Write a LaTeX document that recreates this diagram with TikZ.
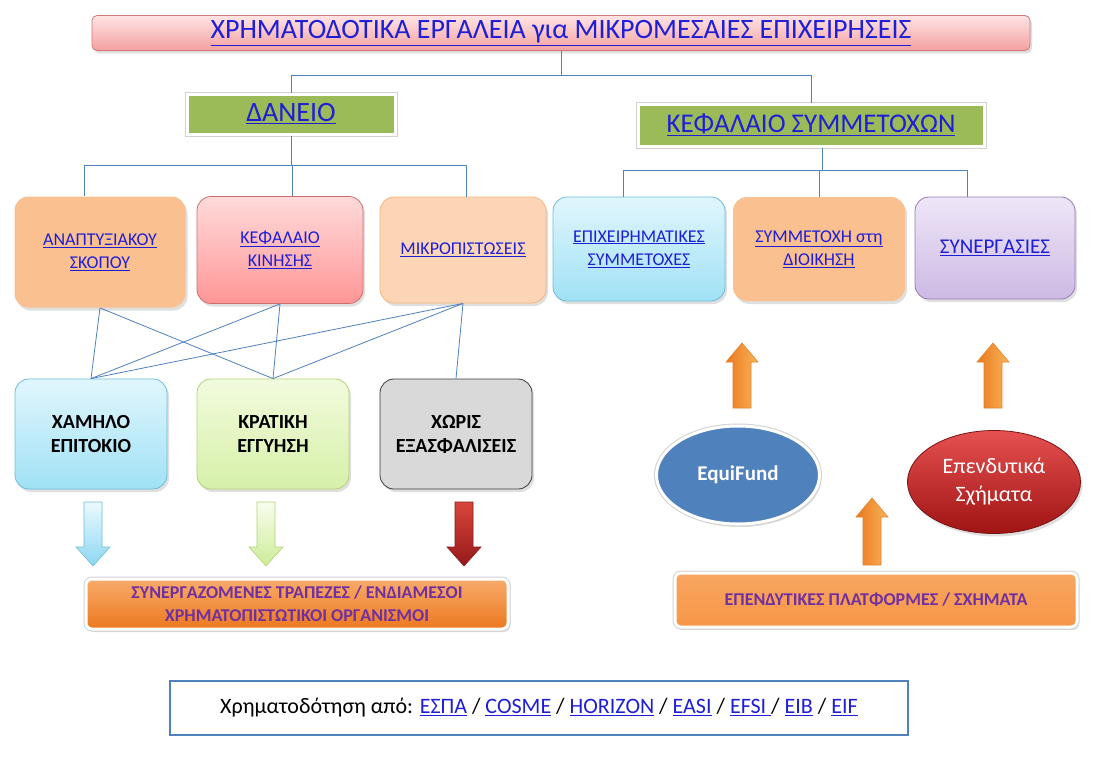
\documentclass[tikz,border=0pt]{standalone}
\usepackage{fontspec}
\setmainfont{Carlito}
\usetikzlibrary{shapes.geometric,shadows}

\definecolor{linkblue}{RGB}{30,30,215}
\definecolor{lineblue}{RGB}{79,129,189}
\definecolor{olivegreen}{RGB}{155,187,89}
\definecolor{peach}{RGB}{250,192,143}
\definecolor{lightpeach}{RGB}{251,213,181}
\definecolor{orangebar}{RGB}{247,150,70}
\definecolor{textpurple}{RGB}{112,48,160}

% underlined link text
\newcommand{\lnk}[1]{\textcolor{linkblue}{\underline{#1}}}

\tikzset{
  tree/.style={draw=lineblue, line width=0.8pt},
  softshadow/.style={drop shadow={opacity=0.25, shadow xshift=2pt, shadow yshift=-3pt}},
  tierbox/.style={rounded corners=14pt, align=center, inner sep=2pt, line width=0.8pt,
    softshadow, font=\fontsize{18}{23}\selectfont},
  glowbox/.style={draw=white, line width=3pt, align=center, softshadow,
    preaction={draw=black!18, line width=5pt}},
  featbox/.style={tierbox, font=\bfseries\fontsize{20}{24}\selectfont},
  blockarr/.style={line width=0.6pt, line join=miter}
}

\begin{document}
\begin{tikzpicture}[x=1pt, y=-1pt]
  \useasboundingbox[fill=white] (0,0) rectangle (1103,776);

  % Title
  \node[rounded corners=5pt, draw={rgb,255:red,210;green,120;blue,120}, line width=0.8pt,
    top color={rgb,255:red,255;green,228;blue,228}, bottom color={rgb,255:red,244;green,160;blue,160},
    softshadow, minimum width=938, minimum height=35,
    font=\fontsize{28}{32}\selectfont] (title) at (561,33)
    {\lnk{ΧΡΗΜΑΤΟΔΟΤΙΚΑ ΕΡΓΑΛΕΙΑ για ΜΙΚΡΟΜΕΣΑΙΕΣ ΕΠΙΧΕΙΡΗΣΕΙΣ}};

  % Two branches
  \node[glowbox, fill=olivegreen, minimum width=208, minimum height=40,
    font=\fontsize{28}{32}\selectfont] (daneio) at (291,114) {\lnk{ΔΑΝΕΙΟ}};
  \node[glowbox, fill=olivegreen, minimum width=346, minimum height=42,
    font=\fontsize{27}{32}\selectfont] (kefalaio) at (811,125) {\lnk{ΚΕΦΑΛΑΙΟ ΣΥΜΜΕΤΟΧΩΝ}};

  \draw[tree] (title.south) -- ++(0,25) -| (daneio.north);
  \draw[tree] (title.south) -- ++(0,25) -| (kefalaio.north);

  % Loan types
  \node[tierbox, fill=peach, minimum width=171, minimum height=111] (anap) at (100,252)
    {\lnk{ΑΝΑΠΤΥΞΙΑΚΟΥ}\\\lnk{ΣΚΟΠΟΥ}};
  \node[tierbox, draw={rgb,255:red,205;green,110;blue,110},
    top color={rgb,255:red,255;green,218;blue,218}, bottom color={rgb,255:red,255;green,150;blue,150},
    minimum width=166, minimum height=107] (kefkin) at (280,250)
    {\lnk{ΚΕΦΑΛΑΙΟ}\\\lnk{ΚΙΝΗΣΗΣ}};
  \node[tierbox, fill=lightpeach, draw={rgb,255:red,248;green,180;blue,120},
    minimum width=166, minimum height=106] (mikro) at (463,250)
    {\lnk{ΜΙΚΡΟΠΙΣΤΩΣΕΙΣ}};

  \draw[tree] (daneio.south) -- ++(0,30) -| ([xshift=-16]anap.north);
  \draw[tree] (daneio.south) -- ++(0,30) -| ([xshift=12]kefkin.north);
  \draw[tree] (daneio.south) -- ++(0,30) -| ([xshift=3]mikro.north);

  % Equity types
  \node[tierbox, draw={rgb,255:red,110;green,190;blue,215},
    top color={rgb,255:red,225;green,246;blue,253}, bottom color={rgb,255:red,160;green,225;blue,245},
    minimum width=172, minimum height=104] (epix) at (639,249)
    {\lnk{ΕΠΙΧΕΙΡΗΜΑΤΙΚΕΣ}\\\lnk{ΣΥΜΜΕΤΟΧΕΣ}};
  \node[tierbox, fill=peach, minimum width=172, minimum height=104] (symm) at (819,249)
    {\lnk{ΣΥΜΜΕΤΟΧΗ στη}\\\lnk{ΔΙΟΙΚΗΣΗ}};
  \node[tierbox, draw={rgb,255:red,150;green,125;blue,180},
    top color={rgb,255:red,238;green,230;blue,247}, bottom color={rgb,255:red,205;green,185;blue,228},
    minimum width=160, minimum height=102, font=\fontsize{21}{24}\selectfont] (syner) at (995,248)
    {\lnk{ΣΥΝΕΡΓΑΣΙΕΣ}};

  \draw[tree] ([xshift=11]kefalaio.south) -- ++(0,23) -| ([xshift=-16]epix.north);
  \draw[tree] ([xshift=11]kefalaio.south) -- ++(0,23) -| (symm.north);
  \draw[tree] ([xshift=11]kefalaio.south) -- ++(0,23) -| ([xshift=-28]syner.north);

  % Loan features
  \node[featbox, draw={rgb,255:red,110;green,190;blue,215},
    top color={rgb,255:red,225;green,246;blue,253}, bottom color={rgb,255:red,160;green,225;blue,245},
    minimum width=152, minimum height=110] (xamhlo) at (91,434) {ΧΑΜΗΛΟ\\ΕΠΙΤΟΚΙΟ};
  \node[featbox, draw={rgb,255:red,180;green,210;blue,120},
    top color={rgb,255:red,242;green,251;blue,222}, bottom color={rgb,255:red,214;green,240;blue,168},
    minimum width=152, minimum height=110] (kratikh) at (273,434) {ΚΡΑΤΙΚΗ\\ΕΓΓΥΗΣΗ};
  \node[featbox, draw={rgb,255:red,60;green,60;blue,60}, fill={rgb,255:red,217;green,217;blue,217},
    minimum width=152, minimum height=110] (xoris) at (456,434) {ΧΩΡΙΣ\\ΕΞΑΣΦΑΛΙΣΕΙΣ};

  \draw[tree] (anap.south) -- (xamhlo.north);
  \draw[tree] (anap.south) -- (kratikh.north);
  \draw[tree] (kefkin.south) -- (xamhlo.north);
  \draw[tree] (kefkin.south) -- (kratikh.north);
  \draw[tree] (mikro.south) -- (xamhlo.north);
  \draw[tree] (mikro.south) -- (kratikh.north);
  \draw[tree] (mikro.south) -- (xoris.north);

  % Banks bar
  \node[rounded corners=6pt, glowbox, top color=orangebar!80, bottom color={rgb,255:red,236;green,120;blue,30},
    minimum width=422, minimum height=50, text=textpurple,
    font=\bfseries\fontsize{18}{23}\selectfont] (trapezes) at (297,604)
    {ΣΥΝΕΡΓΑΖΟΜΕΝΕΣ ΤΡΑΠΕΖΕΣ / ΕΝΔΙΑΜΕΣΟΙ\\ΧΡΗΜΑΤΟΠΙΣΤΩΤΙΚΟΙ ΟΡΓΑΝΙΣΜΟΙ};

  % Down arrows
  \path[blockarr, draw={rgb,255:red,110;green,190;blue,215},
    top color={rgb,255:red,235;green,250;blue,255}, bottom color={rgb,255:red,140;green,215;blue,240}]
    (84,502) -- (102,502) -- (102,547) -- (110,547) -- (93,566) -- (76,547) -- (84,547) -- cycle;
  \path[blockarr, draw={rgb,255:red,180;green,210;blue,120},
    top color={rgb,255:red,248;green,253;blue,238}, bottom color={rgb,255:red,205;green,236;blue,150}]
    (257,502) -- (275,502) -- (275,547) -- (283,547) -- (266,566) -- (249,547) -- (257,547) -- cycle;
  \path[blockarr, draw={rgb,255:red,140;green,25;blue,25},
    top color={rgb,255:red,215;green,70;blue,60}, bottom color={rgb,255:red,150;green,25;blue,25}]
    (455,502) -- (473,502) -- (473,547) -- (481,547) -- (464,566) -- (447,547) -- (455,547) -- cycle;

  % Equity sources
  \node[ellipse, glowbox, fill=lineblue, minimum width=163, minimum height=98, text=white,
    font=\bfseries\fontsize{21}{24}\selectfont] (equifund) at (738,475) {EquiFund};
  \node[ellipse, draw={rgb,255:red,120;green,20;blue,20}, line width=0.8pt, softshadow,
    top color={rgb,255:red,230;green,80;blue,80}, bottom color={rgb,255:red,160;green,20;blue,20},
    minimum width=173, minimum height=103, text=white, align=center,
    font=\fontsize{22}{28}\selectfont] (ependytika) at (994,482) {Επενδυτικά\\Σχήματα};

  \node[rounded corners=6pt, glowbox, top color=orangebar!85, bottom color=orangebar,
    minimum width=402, minimum height=54, text=textpurple,
    font=\bfseries\fontsize{18}{22}\selectfont] (platformes) at (876,600)
    {ΕΠΕΝΔΥΤΙΚΕΣ ΠΛΑΤΦΟΡΜΕΣ / ΣΧΗΜΑΤΑ};

  % Up arrows
  \path[blockarr, draw={rgb,255:red,230;green,130;blue,40},
    left color={rgb,255:red,232;green,120;blue,30}, right color={rgb,255:red,250;green,180;blue,90}]
    (733,408) -- (751,408) -- (751,362) -- (758,362) -- (742,343) -- (726,362) -- (733,362) -- cycle;
  \path[blockarr, draw={rgb,255:red,230;green,130;blue,40},
    left color={rgb,255:red,232;green,120;blue,30}, right color={rgb,255:red,250;green,180;blue,90}]
    (984,408) -- (1002,408) -- (1002,362) -- (1009,362) -- (993,343) -- (977,362) -- (984,362) -- cycle;
  \path[blockarr, draw={rgb,255:red,230;green,130;blue,40},
    left color={rgb,255:red,232;green,120;blue,30}, right color={rgb,255:red,250;green,180;blue,90}]
    (863,565) -- (881,565) -- (881,517) -- (888,517) -- (872,498) -- (856,517) -- (863,517) -- cycle;

  % Funding sources
  \node[draw=lineblue, line width=2pt, fill=white, minimum width=738, minimum height=54,
    font=\fontsize{22}{26}\selectfont] (funding) at (539,708)
    {Χρηματοδότηση από: \lnk{ΕΣΠΑ} / \lnk{COSME} / \lnk{HORIZON} / \lnk{EASI} / \lnk{EFSI\ }/ \lnk{EIB} / \lnk{EIF}};
\end{tikzpicture}
\end{document}
